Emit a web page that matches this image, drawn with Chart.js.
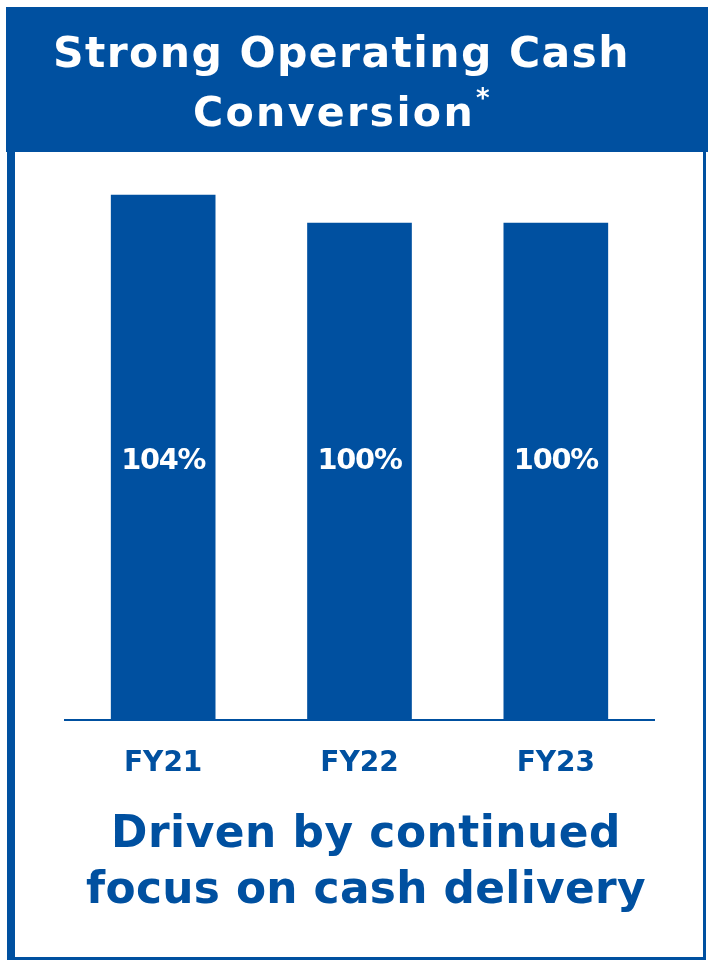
<!DOCTYPE html>
<html>
<head>
<meta charset="utf-8">
<script src="https://cdn.jsdelivr.net/npm/chart.js@4"></script>
<style>
  body { margin: 0; background: #fff; }
  canvas { display: block; }
</style>
</head>
<body>
<canvas id="cashChart" width="708" height="960"></canvas>
<script>
const years = ['FY21', 'FY22', 'FY23']
const conversion = [104, 100, 100]
const valueLabels = ['104%', '100%', '100%']
const titleLines = ['Strong Operating Cash', 'Conversion']
const footerLines = ['Driven by continued', 'focus on cash delivery']

const blue = '#0050a0'
const family = '"DejaVu Sans", sans-serif'

// cap height picks the size, letter spacing stretches it to the wanted width
function spacedText(ctx, text, x, y, cap, width, color) {
    const size = cap / 0.729
    ctx.font = `700 ${size}px ${family}`
    ctx.letterSpacing = '0px'
    const w = ctx.measureText(text).width
    const gap = (width - w) / text.length
    ctx.letterSpacing = gap + 'px'
    ctx.textAlign = 'left'
    ctx.textBaseline = 'alphabetic'
    ctx.fillStyle = color
    ctx.fillText(text, x, y)
    ctx.letterSpacing = '0px'
}

const frame = {
    id: 'frame',
    beforeDraw (chart) {
        const {ctx} = chart
        ctx.save()
        ctx.fillStyle = '#fff'
        ctx.fillRect(0, 0, 708, 960)
        ctx.fillStyle = blue
        ctx.fillRect(6, 7, 702, 145)      // header band
        ctx.fillRect(7, 152, 8, 808)      // left edge
        ctx.fillRect(703, 152, 3, 808)    // right edge
        ctx.fillRect(7, 957, 699, 3)      // bottom edge
        ctx.restore()
    },
    afterDraw (chart) {
        const {ctx} = chart
        ctx.save()
        spacedText(ctx, titleLines[0], 53, 67, 31, 577, '#fff')
        spacedText(ctx, titleLines[1], 193, 126, 30, 282, '#fff')
        ctx.font = `700 26px ${family}`
        ctx.textAlign = 'left'
        ctx.fillStyle = '#fff'
        ctx.fillText('*', 476, 107)

        spacedText(ctx, footerLines[0], 111, 847, 32, 510, blue)
        spacedText(ctx, footerLines[1], 86, 903, 32, 560, blue)

        const bars = chart.getDatasetMeta(0).data
        bars.forEach((bar, i) => {
            spacedText(ctx, valueLabels[i], bar.x - 42, 469, 21, 84, '#fff')
        })
        ctx.restore()
    }
}

new Chart(document.getElementById('cashChart'), {
    type: 'bar',
    data: {
        labels: years,
        datasets: [{
            data: conversion,
            backgroundColor: blue,
            barThickness: 104
        }]
    },
    options: {
        responsive: false,
        animation: false,
        layout: {padding: {left: 65, right: 54, top: 160, bottom: 152}},
        plugins: {
            legend: {display: false},
            tooltip: {enabled: false}
        },
        scales: {
            x: {
                grid: {display: false, drawTicks: false},
                border: {color: blue, width: 2},
                ticks: {
                    color: blue,
                    padding: 27,
                    font: {family: family, size: 28, weight: '700'}
                }
            },
            y: {display: false, min: 29, max: 109}
        }
    },
    plugins: [frame]
})
</script>
</body>
</html>
